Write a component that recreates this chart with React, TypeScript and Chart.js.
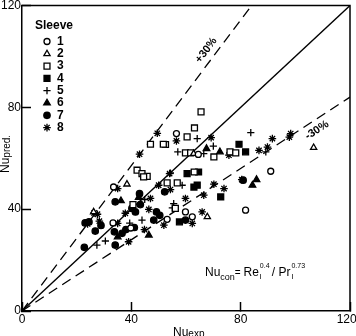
import React, { useEffect, useRef } from 'react';
import { Chart, registerables } from 'chart.js';
import { drawPoint } from 'chart.js/helpers';

Chart.register(...registerables);

const FONT = '"Liberation Sans", Arial, Helvetica, sans-serif';

// [Nu_exp, Nu_pred] pairs for each sleeve
const sleeve1: [number, number][] = [
  [33.5, 48.7], [33.3, 34.6], [39.8, 32.6], [53.1, 36.0], [56.5, 69.7],
  [64.5, 61.5], [59.8, 38.9], [62.3, 37.0], [81.8, 39.6], [91.0, 54.9],
];
const sleeve2: [number, number][] = [
  [38.4, 49.8], [26.2, 38.9], [67.8, 37.0], [106.7, 64.2], [62.8, 61.8],
];
const sleeve3: [number, number][] = [
  [65.5, 78.2], [63.1, 71.9], [60.4, 68.4], [52.5, 65.4], [47.0, 65.5],
  [51.7, 65.5], [59.8, 62.1], [61.7, 62.1], [70.2, 60.5], [76.1, 62.5],
  [78.2, 62.1], [42.1, 55.3], [43.9, 54.0], [45.8, 52.9], [44.5, 52.7],
  [53.1, 50.3], [56.8, 50.3], [40.6, 41.8], [56.1, 40.3], [63.0, 54.6],
];
const sleeve4: [number, number][] = [
  [79.4, 65.5], [81.8, 62.5], [60.4, 54.0], [64.6, 54.6], [64.1, 49.4],
  [62.9, 48.7], [72.7, 44.8], [57.6, 35.0],
];
const sleeve5: [number, number][] = [
  [64.1, 67.7], [83.7, 70.1], [57.0, 62.5], [66.5, 61.8], [70.0, 64.8],
  [89.2, 62.5], [54.3, 54.2], [58.6, 49.4], [55.5, 42.2], [44.9, 43.8],
  [43.9, 35.7], [39.4, 34.5], [30.5, 27.5], [27.4, 25.9], [55.0, 40.5],
];
const sleeve6: [number, number][] = [
  [67.5, 63.8], [72.4, 62.5], [36.2, 43.3], [85.8, 51.6], [84.3, 49.4],
  [46.4, 29.8], [35.0, 29.1], [42.7, 44.6],
];
const sleeve7: [number, number][] = [
  [34.1, 42.9], [43.0, 46.1], [52.2, 46.8], [43.3, 41.8], [49.2, 38.9],
  [50.4, 37.6], [48.2, 35.7], [40.2, 40.3], [41.5, 38.9], [23.1, 34.6],
  [24.5, 35.0], [26.8, 31.4], [28.9, 33.6], [33.8, 31.1], [36.6, 30.5],
  [38.0, 32.0], [41.1, 32.8], [34.1, 25.9], [22.8, 25.0], [59.8, 35.7],
  [80.9, 51.4],
];
const sleeve8: [number, number][] = [
  [49.5, 69.8], [56.5, 66.8], [69.2, 68.1], [75.7, 61.2], [86.7, 63.1],
  [89.8, 64.4], [91.6, 67.7], [98.3, 69.7], [97.8, 68.3], [43.0, 61.6],
  [35.0, 48.1], [54.3, 47.7], [54.0, 54.0], [50.0, 49.4], [47.0, 44.2],
  [46.4, 39.9], [59.8, 44.2], [66.5, 45.5], [70.2, 49.8], [73.9, 48.1],
  [80.4, 51.6], [65.9, 38.9], [62.3, 34.4], [51.9, 33.7], [44.8, 32.0],
  [39.0, 27.2], [26.4, 38.5], [27.6, 38.0], [28.3, 35.3], [35.0, 34.4],
  [24.0, 34.2], [37.8, 38.4],
];

const sleeveData = [sleeve1, sleeve2, sleeve3, sleeve4, sleeve5, sleeve6, sleeve7, sleeve8];
const sleeveNames = ['1', '2', '3', '4', '5', '6', '7', '8'];
const sleeveStyles = ['circle', 'triangle', 'rect', 'rect', 'cross', 'triangle', 'circle', 'star'];
const sleeveFilled = [false, false, false, true, false, true, true, true];
const sleeveRadius = [3, 3.6, 4.2, 4.2, 3.6, 3.8, 3.2, 3.8];

// axis range and tick labels
const axisMin = 0;
const axisMax = 120;
const tickStep = 40;

// parity line and the +/-30 % band (end points)
const parityLine: [number, number][] = [[0, 0], [120, 120]];
const upperBand: [number, number][] = [[0, 0], [84, 120]];
const lowerBand: [number, number][] = [[0, 0], [120, 84]];
const bandLabels = ['+30%', '-30%'];

const toXY = (pts: [number, number][]) => pts.map(([x, y]) => ({ x, y }));

function richText(ctx: CanvasRenderingContext2D, x: number, y: number,
  parts: { t: string; size: number; dy: number; bold?: boolean }[]) {
  let cx = x;
  for (const p of parts) {
    ctx.font = `${p.bold ? 'bold ' : ''}${p.size}px ${FONT}`;
    ctx.fillText(p.t, cx, y + p.dy);
    cx += ctx.measureText(p.t).width;
  }
  return cx;
}

const decorPlugin = {
  id: 'decor',
  afterDraw(chart: any) {
    const { ctx, chartArea: a, scales } = chart;
    const xs = scales.x;
    const ys = scales.y;
    const px = (v: number) => xs.getPixelForValue(v);
    const py = (v: number) => ys.getPixelForValue(v);
    ctx.save();

    // closing edges of the plot frame
    ctx.strokeStyle = '#000';
    ctx.lineWidth = 1.5;
    ctx.beginPath();
    ctx.moveTo(a.left, a.top);
    ctx.lineTo(a.right, a.top);
    ctx.lineTo(a.right, a.bottom);
    ctx.stroke();

    // legend
    ctx.fillStyle = '#000';
    ctx.textBaseline = 'middle';
    ctx.textAlign = 'left';
    ctx.font = `bold 12px ${FONT}`;
    ctx.fillText('Sleeve', 35, 26);
    sleeveNames.forEach((name, i) => {
      const y = 41.5 + i * 12.3;
      ctx.lineWidth = 1.3;
      ctx.strokeStyle = '#000';
      ctx.fillStyle = sleeveFilled[i] ? '#000' : '#fff';
      drawPoint(ctx, { pointStyle: sleeveStyles[i], radius: sleeveRadius[i], borderWidth: 1.3, rotation: 0 }, 47, y);
      ctx.fillStyle = '#000';
      ctx.font = `bold 12px ${FONT}`;
      ctx.fillText(name, 57, y);
    });

    // band labels along the dashed lines
    const angle = (l: [number, number][]) =>
      Math.atan2(py(l[1][1]) - py(l[0][1]), px(l[1][0]) - px(l[0][0]));
    ctx.textAlign = 'center';
    ctx.font = `bold 11px ${FONT}`;
    ctx.save();
    ctx.translate(px(67.4), py(102.4));
    ctx.rotate(angle(upperBand));
    ctx.fillText(bandLabels[0], 0, 0);
    ctx.restore();
    ctx.save();
    ctx.translate(px(107.9), py(71.0));
    ctx.rotate(angle(lowerBand));
    ctx.fillText(bandLabels[1], 0, 0);
    ctx.restore();

    // correlation used for the prediction
    ctx.textAlign = 'left';
    ctx.textBaseline = 'alphabetic';
    let cx = richText(ctx, 205, 276, [
      { t: 'Nu', size: 12, dy: 0 },
      { t: 'con', size: 9, dy: 4 },
      { t: '= ', size: 10, dy: 0 },
      { t: 'Re', size: 12, dy: 0 },
    ]);
    ctx.font = `7px ${FONT}`;
    ctx.fillText('0.4', cx + 1, 268);
    ctx.font = `8px ${FONT}`;
    ctx.fillText('l', cx + 1, 279);
    cx += 13;
    cx = richText(ctx, cx, 276, [
      { t: '/ ', size: 12, dy: 0 },
      { t: 'Pr', size: 12, dy: 0 },
    ]);
    ctx.font = `7px ${FONT}`;
    ctx.fillText('0.73', cx + 1, 268);
    ctx.font = `8px ${FONT}`;
    ctx.fillText('l', cx + 1, 279);

    // axis titles
    richText(ctx, 173, 336, [
      { t: 'Nu', size: 12, dy: 0 },
      { t: 'exp', size: 10, dy: 1 },
    ]);
    ctx.save();
    ctx.translate(9, 173);
    ctx.rotate(-Math.PI / 2);
    richText(ctx, 0, 0, [
      { t: 'Nu', size: 12, dy: 0 },
      { t: 'pred.', size: 10, dy: 1 },
    ]);
    ctx.restore();

    ctx.restore();
  },
};

const axisBase = (pos: 'x' | 'y') => ({
  type: 'linear' as const,
  min: axisMin,
  max: axisMax,
  ticks: {
    stepSize: tickStep,
    padding: 10,
    color: '#000',
    maxRotation: 0,
    font: { family: FONT, size: 12 },
    callback: (v: number) => (pos === 'x' && v === axisMax ? `${v}\u2007` : `${v}`),
  },
  grid: { drawOnChartArea: false, drawTicks: true, tickLength: -9, color: '#000', tickWidth: 1.5 },
  border: { color: '#000', width: 1.5 },
  afterFit: (s: any) => {
    if (pos === 'x') s.height = 25; else s.width = 22;
    s.paddingLeft = 0; s.paddingRight = 0; s.paddingTop = 0; s.paddingBottom = 0;
  },
});

export default function App() {
  const ref = useRef<HTMLCanvasElement | null>(null);
  useEffect(() => {
    document.body.style.margin = '0';
    const lineDs = (pts: [number, number][], dash: number[]) => ({
      data: toXY(pts),
      showLine: true,
      borderColor: '#000',
      borderWidth: 1.3,
      borderDash: dash,
      pointRadius: 0,
      order: 10,
    });
    const pointDs = sleeveData.map((d, i) => ({
      label: sleeveNames[i],
      data: toXY(d),
      showLine: false,
      pointStyle: sleeveStyles[i],
      pointRadius: sleeveRadius[i],
      pointBorderWidth: 1.3,
      pointBorderColor: '#000',
      pointBackgroundColor: sleeveFilled[i] ? '#000' : '#fff',
      order: 0,
    }));
    const chart = new Chart(ref.current!, {
      type: 'scatter',
      data: {
        datasets: [
          lineDs(parityLine, []),
          lineDs(upperBand, [10, 6]),
          lineDs(lowerBand, [10, 6]),
          ...pointDs,
        ] as any,
      },
      options: {
        animation: false,
        responsive: false,
        devicePixelRatio: 1,
        layout: { padding: { left: 0, top: 5, right: 6, bottom: 0 } },
        plugins: { legend: { display: false }, tooltip: { enabled: false } },
        scales: { x: axisBase('x'), y: axisBase('y') } as any,
      },
      plugins: [decorPlugin],
    });
    return () => chart.destroy();
  }, []);
  return (
    <div style={{ position: 'absolute', left: 0, top: 0, width: 356, height: 336, background: '#fff' }}>
      <canvas ref={ref} width={356} height={336} style={{ display: 'block' }} />
    </div>
  );
}
